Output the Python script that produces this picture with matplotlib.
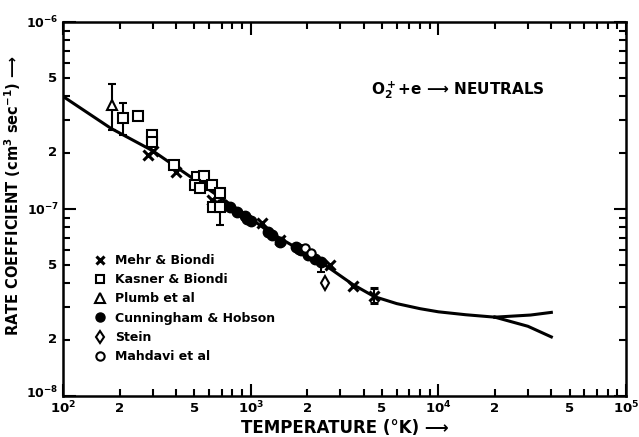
import matplotlib
matplotlib.use('Agg')
import matplotlib.pyplot as plt
from matplotlib.lines import Line2D
from matplotlib.transforms import ScaledTranslation

plt.rcParams['font.family'] = ['DejaVu Sans']
plt.rcParams['font.weight'] = 'bold'
plt.rcParams['axes.labelweight'] = 'bold'
plt.rcParams['mathtext.default'] = 'bf'

# Recommended curve
curve_T = [100, 180, 300, 500, 700, 1000, 1240, 1800, 2500, 3500, 4560, 6000, 8000, 10000, 14000, 20000]
curve_k = [4.0e-7, 2.7e-7, 2.05e-7, 1.44e-7, 1.14e-7, 8.9e-8, 7.6e-8, 6.1e-8, 5.0e-8, 3.95e-8,
           3.4e-8, 3.12e-8, 2.93e-8, 2.82e-8, 2.72e-8, 2.64e-8]
upper_T = [20000, 31000, 40000]
upper_k = [2.64e-8, 2.71e-8, 2.8e-8]
lower_T = [20000, 30000, 40000]
lower_k = [2.64e-8, 2.36e-8, 2.07e-8]

# Measurements
mehr_T = [285, 300, 400, 620, 660, 700, 1150, 1430, 2640, 3525]
mehr_k = [1.95e-7, 2.05e-7, 1.58e-7, 1.12e-7, 1.08e-7, 1.05e-7, 8.4e-8, 6.8e-8, 5.0e-8, 3.87e-8]
mehr_err_T = [4560]
mehr_err_k = [3.43e-8]
mehr_err_lo = [0.29e-8]
mehr_err_hi = [0.33e-8]

kasner_T = [250, 297, 297, 390, 515, 566, 505, 537, 620, 686, 632]
kasner_k = [3.14e-7, 2.49e-7, 2.27e-7, 1.72e-7, 1.49e-7, 1.51e-7, 1.34e-7, 1.29e-7, 1.34e-7, 1.22e-7, 1.03e-7]
kasner_err_T = [208, 686]
kasner_err_k = [3.05e-7, 1.03e-7]
kasner_err_lo = [0.56e-7, 0.21e-7]
kasner_err_hi = [0.62e-7, 0.0]

plumb_T = [182]
plumb_k = [3.59e-7]
plumb_lo = [0.95e-7]
plumb_hi = [1.06e-7]

cunn_T = [780, 850, 930, 960, 1000, 1240, 1300, 1430, 1750, 1800, 1850, 2030, 2200]
cunn_k = [1.02e-7, 9.6e-8, 9.2e-8, 8.8e-8, 8.6e-8, 7.5e-8, 7.3e-8, 6.7e-8, 6.3e-8, 6.1e-8, 6.0e-8, 5.7e-8, 5.4e-8]
cunn_err_T = [2360]
cunn_err_k = [5.2e-8]
cunn_err_lo = [0.6e-8]
cunn_err_hi = [0.0]

stein_T = [2490]
stein_k = [4.0e-8]

mahdavi_T = [1950, 2100]
mahdavi_k = [6.2e-8, 5.8e-8]

x_ticks = [200, 500, 2000, 5000, 20000, 50000]
x_labels = ['2', '5', '2', '5', '2', '5']
x_major = [100, 1000, 10000, 100000]
x_major_labels = ['$10^2$', '$10^3$', '$10^4$', '$10^5$']
y_ticks = [2e-8, 5e-8, 2e-7, 5e-7]
y_labels = ['2', '5', '2', '5']
y_major = [1e-8, 1e-7, 1e-6]
y_major_labels = ['$10^{-8}$', '$10^{-7}$', '$10^{-6}$']

fig = plt.figure(figsize=(6.39, 4.37), dpi=100)
ax = fig.add_axes([0.0986, 0.0938, 0.8811, 0.8559])
ax.set_xscale('log')
ax.set_yscale('log')
ax.set_xlim(100, 100000)
ax.set_ylim(1e-8, 1e-6)

lw = 2.2
ax.plot(curve_T, curve_k, color='black', lw=lw, zorder=2)
ax.plot(upper_T, upper_k, color='black', lw=lw, zorder=2)
ax.plot(lower_T, lower_k, color='black', lw=lw, zorder=2)

ms = 6.5
ax.plot(mehr_T, mehr_k, 'x', color='black', ms=ms, mew=2.2, zorder=4)
ax.errorbar(mehr_err_T, mehr_err_k, yerr=[mehr_err_lo, mehr_err_hi], fmt='x', color='black',
            ms=ms, mew=2.2, capsize=3, elinewidth=1.5, capthick=1.5, zorder=4)
ax.plot(kasner_T, kasner_k, 's', mfc='white', mec='black', ms=ms, mew=1.5, zorder=4)
ax.errorbar(kasner_err_T, kasner_err_k, yerr=[kasner_err_lo, kasner_err_hi], fmt='s', mfc='white',
            mec='black', ecolor='black', ms=ms, mew=1.5, capsize=3, elinewidth=1.5, capthick=1.5, zorder=4)
ax.errorbar(plumb_T, plumb_k, yerr=[plumb_lo, plumb_hi], fmt='^', mfc='white', mec='black',
            ecolor='black', ms=7.5, mew=1.5, capsize=3, elinewidth=1.5, capthick=1.5, zorder=4)
ax.plot(cunn_T, cunn_k, 'o', color='black', ms=7.5, zorder=3)
ax.errorbar(cunn_err_T, cunn_err_k, yerr=[cunn_err_lo, cunn_err_hi], fmt='o', color='black',
            ms=7.5, capsize=3, elinewidth=1.5, capthick=1.5, zorder=3)
ax.plot(stein_T, stein_k, 'd', mfc='white', mec='black', ms=7, mew=1.5, zorder=4)
ax.plot(mahdavi_T, mahdavi_k, 'o', mfc='white', mec='black', ms=6, mew=1.5, zorder=5)

# ticks: decades long, 2..9 short; only 2 and 5 get a label
ax.set_xticks(x_major, x_major_labels)
ax.set_xticks([m * d for d in [100, 1000, 10000] for m in range(2, 10)], minor=True)
ax.set_xticklabels([''] * 24, minor=True)
ax.set_yticks(y_major, y_major_labels)
ax.set_yticks([m * d for d in [1e-8, 1e-7] for m in range(2, 10)], minor=True)
ax.set_yticklabels([''] * 16, minor=True)
ax.tick_params(which='both', direction='in', top=True, right=True, width=1.5, labelsize=9.5)
ax.tick_params(axis='y', labelsize=9)
ax.tick_params(which='major', length=9, pad=3)
ax.tick_params(which='minor', length=5)
for sp in ax.spines.values():
    sp.set_linewidth(1.8)

# lift the 10^-8 label a little so it clears 10^2
lab0 = ax.get_yticklabels()[0]
lab0.set_transform(lab0.get_transform() + ScaledTranslation(0, 3 / 72, fig.dpi_scale_trans))

xt = ax.get_xaxis_transform()
yt = ax.get_yaxis_transform()
for t, lab in zip(x_ticks, x_labels):
    ax.annotate(lab, xy=(t, 0), xycoords=xt, xytext=(0, -4), textcoords='offset points',
                ha='center', va='top', fontsize=9.5)
for t, lab in zip(y_ticks, y_labels):
    ax.annotate(lab, xy=(0, t), xycoords=yt, xytext=(-4, 0), textcoords='offset points',
                ha='right', va='center', fontsize=9.5)

ax.set_xlabel('TEMPERATURE (°K) \u27f6', fontsize=12)
ax.xaxis.set_label_coords(0.5, -0.086)
ax.xaxis.label.set_va('center')
ax.set_ylabel('RATE COEFFICIENT (cm$^3$ sec$^{-1}$) \u27f6', fontsize=10.5)
ax.yaxis.set_label_coords(-0.089, 0.535)
ax.yaxis.label.set_va('center')

ax.text(4400, 4.3e-7, 'O$_2^+$+e \u27f6 NEUTRALS', fontsize=11, va='center', ha='left')

handles = [
    Line2D([], [], ls='', marker='x', color='black', ms=6, mew=2.2),
    Line2D([], [], ls='', marker='s', mfc='white', mec='black', ms=5.5, mew=1.5),
    Line2D([], [], ls='', marker='^', mfc='white', mec='black', ms=6.5, mew=1.5),
    Line2D([], [], ls='', marker='o', color='black', ms=6.5),
    Line2D([], [], ls='', marker='d', mfc='white', mec='black', ms=6.5, mew=1.5),
    Line2D([], [], ls='', marker='o', mfc='white', mec='black', ms=6, mew=1.5),
]
labels = ['Mehr & Biondi', 'Kasner & Biondi', 'Plumb et al', 'Cunningham & Hobson', 'Stein', 'Mahdavi et al']
ax.legend(handles, labels, loc='upper left', bbox_to_anchor=(0.055, 0.38), frameon=False,
          fontsize=9, handlelength=1.0, handletextpad=0.7, labelspacing=0.5, borderpad=0,
          borderaxespad=0)

fig.savefig('out.png', dpi=100)
